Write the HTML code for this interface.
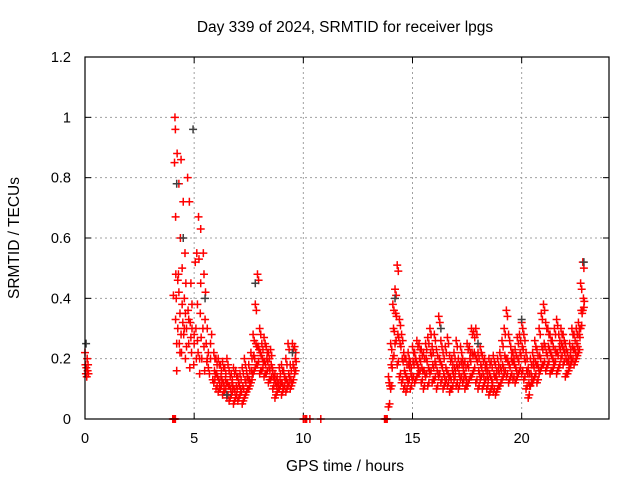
<!DOCTYPE html>
<html><head><meta charset="utf-8"><style>
body{margin:0;background:#fff}
svg{display:block;font-family:"Liberation Sans",sans-serif}
</style></head><body>
<svg id="chart" width="640" height="480" viewBox="0 0 640 480" xmlns="http://www.w3.org/2000/svg">
<text x="345" y="32" font-size="15.5" text-anchor="middle">Day 339 of 2024, SRMTID for receiver lpgs</text>
<text x="345" y="471" font-size="15.5" text-anchor="middle">GPS time / hours</text>
<text transform="translate(19,238) rotate(-90)" font-size="15.5" text-anchor="middle">SRMTID / TECUs</text>
<g id="grid"></g><g id="ticks"></g><g id="marks"></g>
<rect x="85" y="57" width="524" height="362" fill="none" stroke="#000" stroke-width="1.2"/>
</svg>
<script>
const xTicks=[0,5,10,15,20];
const yTicks=[0,0.2,0.4,0.6,0.8,1,1.2];
const yTickLabels=["0","0.2","0.4","0.6","0.8","1","1.2"];
// scattered early points (time, value)
const spikeTimes=[0,0.02,0.04,0.06,0.08,0.1,0.12,0.14,0.16,4.05,4.1,4.12,4.14,4.15,4.16,4.18,4.2,4.22,4.25,4.28,4.3,4.32,4.35,4.37,4.4,4.42,4.45,4.48,4.5,4.52,4.55,4.58,4.6,4.62,4.65,4.7,4.72,4.75,4.78,4.8,4.82,4.85,4.88,4.9,4.98,5.0,5.05,5.08,5.1,5.12,5.15,5.18,5.2,5.22,5.25,5.28,5.3,5.32,5.35,5.4,5.42,5.45,5.48,5.5,5.52,5.55,5.58,5.6,5.65,5.7,5.75,5.8,5.85,4.3,4.6,4.9,5.0,5.3,5.6,4.45,4.75,4.35,4.55,4.65,4.85,5.15,5.25,5.45,5.65,5.75,4.2,4.4,4.25,4.15];
const spikeValues=[0.22,0.18,0.15,0.17,0.14,0.2,0.16,0.18,0.15,0.41,0.85,1.0,0.96,0.67,0.48,0.4,0.16,0.88,0.3,0.48,0.78,0.25,0.35,0.6,0.86,0.22,0.5,0.32,0.72,0.28,0.4,0.55,0.2,0.45,0.3,0.8,0.36,0.25,0.72,0.17,0.32,0.45,0.22,0.3,0.18,0.25,0.52,0.3,0.2,0.55,0.38,0.22,0.67,0.53,0.15,0.35,0.63,0.27,0.2,0.3,0.55,0.48,0.16,0.33,0.42,0.25,0.19,0.3,0.22,0.15,0.2,0.28,0.13,0.42,0.35,0.38,0.28,0.45,0.2,0.38,0.33,0.22,0.3,0.24,0.27,0.26,0.2,0.24,0.17,0.25,0.25,0.28,0.46,0.33];
// dense segments sampled every 0.1 h: low / mid / high values
const segTimes=[5.9,6.0,6.1,6.2,6.3,6.4,6.5,6.6,6.7,6.8,6.9,7.0,7.1,7.2,7.3,7.4,7.5,7.6,7.7,7.8,7.9,8.0,8.1,8.2,8.3,8.4,8.5,8.6,8.7,8.8,8.9,9.0,9.1,9.2,9.3,9.4,9.5,9.6,
13.9,14.0,14.1,14.2,14.3,14.4,14.5,14.6,14.7,14.8,14.9,15.0,15.1,15.2,15.3,15.4,15.5,15.6,15.7,15.8,15.9,16.0,16.1,16.2,16.3,16.4,16.5,16.6,16.7,16.8,16.9,17.0,17.1,17.2,17.3,17.4,17.5,17.6,17.7,17.8,17.9,18.0,18.1,18.2,18.3,18.4,18.5,18.6,18.7,18.8,18.9,19.0,19.1,19.2,19.3,19.4,19.5,19.6,19.7,19.8,19.9,20.0,20.1,20.2,20.3,20.4,20.5,20.6,20.7,20.8,20.9,21.0,21.1,21.2,21.3,21.4,21.5,21.6,21.7,21.8,21.9,22.0,22.1,22.2,22.3,22.4,22.5,22.6,22.7,22.8];
const segLow=[.12,.10,.09,.1,.08,.09,.07,.06,.08,.05,.07,.06,.08,.05,.07,.09,.1,.12,.15,.17,.18,.15,.16,.14,.15,.12,.13,.1,.07,.09,.1,.08,.1,.09,.11,.1,.12,.15,
.04,.1,.2,.25,.18,.14,.12,.1,.09,.12,.1,.13,.12,.14,.15,.12,.1,.14,.11,.15,.12,.13,.1,.14,.12,.1,.12,.11,.09,.1,.13,.11,.1,.13,.12,.1,.11,.13,.14,.16,.12,.1,.13,.1,.12,.1,.08,.1,.09,.08,.1,.11,.13,.15,.14,.12,.14,.13,.12,.14,.16,.15,.13,.1,.07,.11,.12,.14,.12,.15,.17,.18,.16,.18,.15,.16,.18,.15,.17,.2,.18,.14,.15,.17,.19,.18,.2,.22,.3,.36];
const segMid=[.16,.15,.13,.14,.12,.13,.12,.11,.12,.1,.11,.12,.1,.11,.13,.14,.13,.16,.21,.25,.24,.22,.2,.19,.2,.17,.18,.14,.12,.12,.13,.12,.14,.13,.15,.13,.18,.2,
.12,.18,.3,.35,.28,.25,.2,.16,.14,.18,.15,.19,.2,.18,.2,.17,.16,.2,.17,.22,.18,.19,.16,.2,.18,.15,.17,.15,.14,.16,.17,.18,.15,.19,.16,.14,.18,.2,.22,.22,.2,.16,.18,.15,.17,.14,.15,.13,.15,.14,.16,.17,.18,.21,.2,.18,.2,.19,.17,.2,.22,.24,.2,.16,.12,.15,.18,.19,.18,.21,.24,.25,.22,.24,.22,.2,.23,.22,.24,.25,.23,.2,.19,.21,.24,.23,.25,.28,.36,.4];
const segHigh=[.22,.2,.2,.18,.19,.17,.2,.16,.15,.17,.16,.14,.15,.17,.2,.16,.18,.22,.28,.38,.48,.3,.25,.27,.24,.22,.23,.16,.15,.14,.17,.18,.16,.2,.25,.18,.25,.24,
.14,.25,.38,.43,.51,.33,.28,.22,.2,.22,.19,.24,.22,.26,.25,.23,.22,.25,.27,.3,.24,.28,.23,.34,.26,.22,.24,.27,.21,.2,.22,.26,.2,.24,.2,.19,.25,.24,.3,.29,.3,.22,.24,.21,.2,.18,.2,.19,.21,.18,.2,.22,.26,.3,.36,.28,.24,.22,.23,.27,.28,.32,.28,.22,.17,.2,.22,.26,.23,.3,.35,.38,.32,.3,.28,.26,.3,.33,.28,.3,.28,.25,.22,.25,.3,.28,.3,.32,.45,.52];
const zeroTimes=[4.02,4.05,4.08,4.11,4.14,10.0,10.03,10.1,10.15,10.3,10.8,13.72,13.76,13.8,13.84];
const darkTimes=[0.05,4.2,4.95,4.5,5.5,6.5,9.5,14.2,22.85,16.3,20.0,7.8,18.0];
const darkValues=[0.25,0.78,0.96,0.6,0.4,0.08,0.22,0.4,0.52,0.3,0.33,0.45,0.25];

const NS="http://www.w3.org/2000/svg";
const X0=85,X1=609,Y0=419,Y1=57;
function xs(t){return X0+(t/24)*(X1-X0);}
function ys(v){return Y0-(v/1.2)*(Y0-Y1);}
const grid=document.getElementById('grid'),ticks=document.getElementById('ticks'),marks=document.getElementById('marks');
function mk(tag,attrs,parent){const e=document.createElementNS(NS,tag);for(const k in attrs)e.setAttribute(k,attrs[k]);parent.appendChild(e);return e;}
xTicks.forEach((t,i)=>{
  const x=xs(t);
  if(i>0){const g=mk('line',{x1:x,x2:x,y1:Y1,y2:Y0,stroke:'#a0a0a0','stroke-dasharray':'2,3'},grid);
  
  }
  mk('line',{x1:x,x2:x,y1:Y0,y2:Y0-6,stroke:'#000'},ticks);
  mk('line',{x1:x,x2:x,y1:Y1,y2:Y1+6,stroke:'#000'},ticks);
  const l=mk('text',{x:x,y:Y0+24,'font-size':14.5,'text-anchor':'middle'},ticks);
  l.textContent=String(t);
  
  
});
yTicks.forEach((v,i)=>{
  const y=ys(v);
  if(i>0&&i<yTicks.length-1){const g=mk('line',{x1:X0,x2:X1,y1:y,y2:y,stroke:'#a0a0a0','stroke-dasharray':'2,3'},grid);
  
  }
  mk('line',{x1:X0,x2:X0+6,y1:y,y2:y,stroke:'#000'},ticks);
  mk('line',{x1:X1,x2:X1-6,y1:y,y2:y,stroke:'#000'},ticks);
  const l=mk('text',{x:X0-14,y:y+5,'font-size':14.5,'text-anchor':'end'},ticks);
  l.textContent=yTickLabels[i];
  
  
});
function plus(t,v,color){
  const x=xs(t),y=ys(v),s=4;
  const p=mk('path',{d:`M${x-s},${y}H${x+s}M${x},${y-s}V${y+s}`,stroke:color,'stroke-width':1.5,fill:'none'},marks);
  
  
}
spikeTimes.forEach((t,i)=>plus(t,spikeValues[i],'#ff0000'));
segTimes.forEach((t,i)=>{
  plus(t,segLow[i],'#ff0000');plus(t+0.05,segLow[i]+0.01,'#ff0000');
  plus(t+0.03,segMid[i],'#ff0000');plus(t+0.07,segMid[i]-0.01,'#ff0000');
  plus(t,segHigh[i],'#ff0000');plus(t+0.05,segHigh[i]-0.02,'#ff0000');
});
zeroTimes.forEach(t=>plus(t,0,'#ff0000'));
darkTimes.forEach((t,i)=>plus(t,darkValues[i],'#404040'));
</script>
</body></html>
